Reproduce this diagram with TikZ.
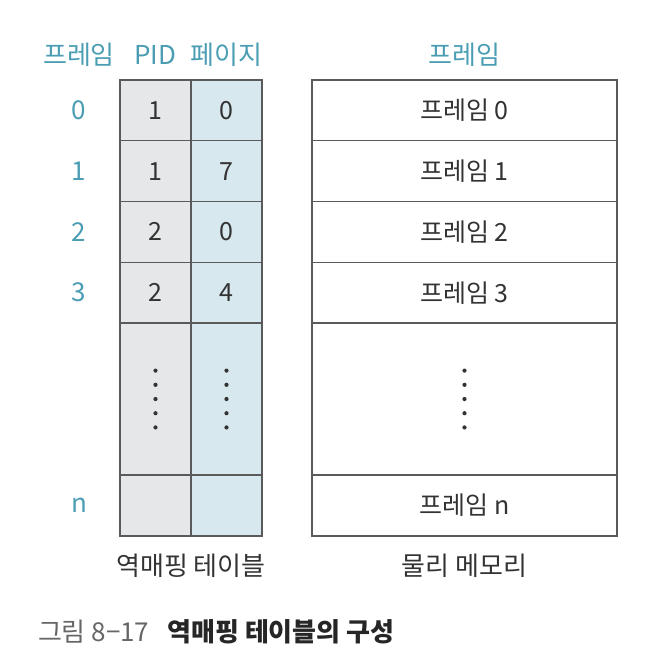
\documentclass[tikz,border=0pt]{standalone}
\usepackage{fontspec}
\setmainfont{Noto Sans CJK KR}
\usetikzlibrary{positioning}
\definecolor{tealtext}{HTML}{4A9DB3}
\definecolor{gridline}{HTML}{5A5A5A}
\definecolor{celltext}{HTML}{333333}
\definecolor{pidfill}{HTML}{E6E7E9}
\definecolor{pagefill}{HTML}{D7E8EE}
\definecolor{captiongray}{HTML}{666666}

\begin{document}
\begin{tikzpicture}[
  x=1pt, y=-1pt,
  every node/.style={font=\fontsize{25}{30}\selectfont, inner sep=0pt, outer sep=0pt},
  cell/.style={draw=gridline, line width=1.3pt, minimum height=60.75pt, text=celltext},
  pidcell/.style={cell, fill=pidfill, minimum width=71pt},
  pagecell/.style={cell, fill=pagefill, minimum width=71pt},
  framecell/.style={cell, fill=white, minimum width=305pt},
  head/.style={text=tealtext, font=\fontsize{26}{30}\selectfont},
  label/.style={text=celltext, font=\fontsize{26}{30}\selectfont}
]
\useasboundingbox (0,0) rectangle (650,670);

% Headers
\node[head] (hnum) at (79,55) {프레임};
\node[head] (hpid) at (155.5,55) {PID};
\node[head] (hpage) at (226.5,55) {페이지};
\node[head] (hframe) at (464.5,55) {프레임};

% Table rows
\foreach \i/\pid/\pg in {0/1/0, 1/1/7, 2/2/0, 3/2/4} {
  \node[pidcell] (pid\i) at (155.5, 110.4+60.75*\i) {\pid};
  \node[pagecell, right=0pt of pid\i] (page\i) {\pg};
  \node[framecell] (frame\i) at (464.5, 110.4+60.75*\i) {프레임 \i};
  \node[head] (num\i) at (79, 110.4+60.75*\i) {\i};
}

% Skipped rows
\node[pidcell, minimum height=152pt, below=0pt of pid3] (piddots) {};
\node[pagecell, minimum height=152pt, below=0pt of page3] (pagedots) {};
\node[framecell, minimum height=152pt, below=0pt of frame3] (framedots) {};
\foreach \k in {-2,...,2} {
  \fill[celltext] ([yshift=\k*14.2pt]piddots.center) circle (2.1pt);
  \fill[celltext] ([yshift=\k*14.2pt]pagedots.center) circle (2.1pt);
  \fill[celltext] ([yshift=\k*14.2pt]framedots.center) circle (2.1pt);
}

% Last row
\node[pidcell, minimum height=61pt, below=0pt of piddots] (pidn) {};
\node[pagecell, minimum height=61pt, below=0pt of pagedots] (pagen) {};
\node[framecell, minimum height=61pt, below=0pt of framedots] (framen) {프레임 n};
\node[head] (numn) at (79, 505.5) {n};

% Labels
\node[label] (tablelabel) at (191,566) {역매핑 테이블};
\node[label] (memlabel) at (464.5,566) {물리 메모리};

% Caption
\node[anchor=west, font=\fontsize{26}{30}\selectfont] (caption) at (38,632)
  {\textcolor{captiongray}{그림 8−17}\hspace{18pt}\textcolor{black!85}{\textbf{역매핑 테이블의 구성}}};

\end{tikzpicture}
\end{document}
